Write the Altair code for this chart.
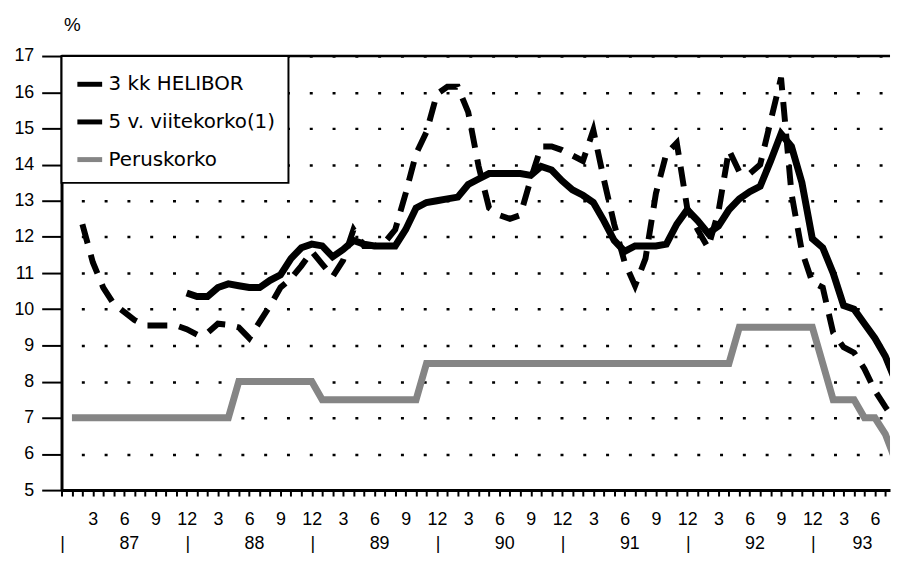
import altair as alt
import pandas as pd

# ---------------- data (month index t: 1 = Jan 1987, 13 = Jan 1988, ...) ----------------
series_names = ["3 kk HELIBOR", "5 v. viitekorko(1)", "Peruskorko"]

helibor_months = list(range(2, 81))
helibor = [12.35, 11.3, 10.6, 10.15, 9.93, 9.7, 9.55, 9.55, 9.55, 9.55, 9.45,
           9.3, 9.35, 9.6, 9.57, 9.5, 9.2, 9.65, 10.1, 10.6, 10.85, 11.2, 11.6,
           11.25, 10.9, 11.35, 12.2, 11.75, 11.75, 11.85, 12.2, 13.2, 14.3, 14.9, 15.95,
           16.15, 16.15, 15.45, 13.95, 12.8, 12.6, 12.5, 12.6, 13.6, 14.5, 14.5, 14.4,
           14.25, 14.1, 14.95, 13.6, 12.35, 11.3, 10.65, 11.4, 13.2, 14.3, 14.6, 12.8,
           12.2, 11.7, 12.7, 14.4, 13.8, 13.75, 14.0, 15.2, 16.4, 13.2, 11.6, 10.75,
           10.6, 9.35, 8.95, 8.8, 8.35, 7.75, 7.3, 6.9]

viite_months = list(range(12, 81))
viite = [10.45,
         10.35, 10.35, 10.6, 10.7, 10.65, 10.6, 10.6, 10.8, 10.95, 11.4, 11.7, 11.8,
         11.75, 11.45, 11.65, 11.9, 11.8, 11.75, 11.75, 11.75, 12.2, 12.8, 12.95, 13.0,
         13.05, 13.1, 13.45, 13.6, 13.75, 13.75, 13.75, 13.75, 13.7, 13.95, 13.85, 13.55,
         13.3, 13.15, 12.95, 12.45, 11.9, 11.6, 11.75, 11.75, 11.75, 11.8, 12.35, 12.75,
         12.45, 12.1, 12.3, 12.75, 13.05, 13.25, 13.4, 14.1, 14.85, 14.5, 13.5, 11.95,
         11.7, 11.0, 10.1, 10.0, 9.6, 9.2, 8.7, 8.0]

perus_months = list(range(1, 81))
perus = [7.0, 7.0, 7.0, 7.0, 7.0, 7.0, 7.0, 7.0, 7.0, 7.0, 7.0, 7.0,
         7.0, 7.0, 7.0, 7.0, 8.0, 8.0, 8.0, 8.0, 8.0, 8.0, 8.0, 8.0,
         7.5, 7.5, 7.5, 7.5, 7.5, 7.5, 7.5, 7.5, 7.5, 7.5, 8.5, 8.5,
         8.5, 8.5, 8.5, 8.5, 8.5, 8.5, 8.5, 8.5, 8.5, 8.5, 8.5, 8.5,
         8.5, 8.5, 8.5, 8.5, 8.5, 8.5, 8.5, 8.5, 8.5, 8.5, 8.5, 8.5,
         8.5, 8.5, 8.5, 8.5, 9.5, 9.5, 9.5, 9.5, 9.5, 9.5, 9.5, 9.5,
         8.5, 7.5, 7.5, 7.5, 7.0, 7.0, 6.55, 5.8]

year_labels = ["87", "88", "89", "90", "91", "92", "93"]
year_centers = [6.5, 18.5, 30.5, 42.5, 54.5, 66.5, 76.8]
year_breaks = [0.1, 12.1, 24.1, 36.1, 48.1, 60.1, 72.1]
month_ticks = list(range(0, 80))
y_ticks = list(range(5, 18))

rows = []
for name, ts, vs in zip(series_names, [helibor_months, viite_months, perus_months],
                        [helibor, viite, perus]):
    for t, v in zip(ts, vs):
        rows.append({"t": t, "value": v, "series": name})
df = pd.DataFrame(rows)

years_df = pd.DataFrame({"pos": year_centers, "label": year_labels})
breaks_df = pd.DataFrame({"pos": year_breaks, "label": ["|"] * len(year_breaks)})

# ---------------- chart ----------------
W, H = 836, 438
FONT = "Liberation Sans"

xscale = alt.Scale(domain=[0, 79.45], nice=False, zero=False)
yscale = alt.Scale(domain=[5, 17], nice=False, zero=False)

x_axis = alt.Axis(
    values=month_ticks,
    labelExpr="datum.value > 0 && datum.value % 3 == 0 ? ((datum.value - 1) % 12 + 1) : ''",
    tickSize=6, tickWidth=2, tickColor="black",
    domainWidth=3, domainColor="black",
    labelFontSize=18, labelFont=FONT, labelColor="black", labelPadding=15,
    labelOverlap=False, labelFlush=False, grid=False, title=None,
)
y_axis = alt.Axis(
    values=y_ticks, tickSize=20, tickWidth=2, tickColor="black",
    domainWidth=3, domainColor="black",
    labelFontSize=18, labelFont=FONT, labelColor="black", labelPadding=8,
    grid=True, gridDash=[3, 20], gridDashOffset=3, gridWidth=2.5, gridColor="black",
    title=None,
)

color = alt.Color(
    "series:N",
    scale=alt.Scale(domain=series_names, range=["black", "black", "#858585"]),
    legend=alt.Legend(title=None, orient="none", legendX=0, legendY=0),
)

x_enc = alt.X("t:Q", scale=xscale, axis=x_axis)
y_enc = alt.Y("value:Q", scale=yscale, axis=y_axis)

base = alt.Chart(df).encode(x=x_enc, y=y_enc, color=color)

perus_line = base.transform_filter(alt.datum.series == "Peruskorko").mark_line(
    strokeWidth=7, clip=True, strokeJoin="miter")
viite_line = base.transform_filter(alt.datum.series == "5 v. viitekorko(1)").mark_line(
    strokeWidth=7, clip=True, strokeJoin="miter")
heli_line = alt.Chart(df).transform_filter(alt.datum.series == "3 kk HELIBOR").mark_line(
    color="black", strokeWidth=6, strokeDash=[20, 12], clip=True, strokeJoin="miter"
).encode(x=x_enc, y=y_enc)

top_rule = alt.Chart(pd.DataFrame({"a": [0]})).mark_rule(
    color="black", strokeWidth=2.5).encode(
    x=alt.value(0), x2=alt.value(W), y=alt.value(0))

year_text = alt.Chart(years_df).mark_text(
    fontSize=18, font=FONT, color="black", baseline="middle", align="center").encode(
    x=alt.X("pos:Q", scale=xscale, axis=x_axis), y=alt.value(492), text="label:N")

break_text = alt.Chart(breaks_df).mark_text(
    fontSize=18, font=FONT, color="black", baseline="middle", align="center").encode(
    x=alt.X("pos:Q", scale=xscale, axis=x_axis), y=alt.value(492), text="label:N")

pct_text = alt.Chart(pd.DataFrame({"a": [0]})).mark_text(
    fontSize=19, font=FONT, color="black", baseline="middle", align="center").encode(
    x=alt.value(11), y=alt.value(-31), text=alt.value("%"))

chart = alt.layer(
    perus_line, viite_line, heli_line, top_rule, year_text, break_text, pct_text
).properties(
    width=W, height=H,
    autosize=alt.AutoSizeParams(type="none"),
    padding={"left": 54, "top": 46, "right": 2, "bottom": 61},
).configure_view(
    stroke=None
).configure_legend(
    padding=13.5, rowPadding=13, symbolType="stroke", symbolSize=625,
    symbolStrokeWidth=5, labelFontSize=20, labelFont="DejaVu Sans", labelLimit=400,
    labelColor="black", labelOffset=4, fillColor="white", strokeColor="black",
    strokeWidth=2,
)

chart.save("out.html", embed_options={"renderer": "svg", "actions": False})
